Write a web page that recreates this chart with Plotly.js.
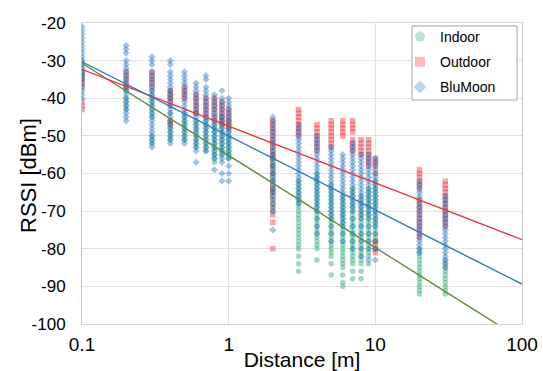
<!DOCTYPE html>
<html>
<head>
<meta charset="utf-8">
<script src="https://cdn.plot.ly/plotly-3.0.1.min.js"></script>
<style>html,body{margin:0;padding:0;background:#fff}#chart{width:543px;height:371px}</style>
</head>
<body>
<div id="chart"></div>
<script>
const distances = [0.1,0.2,0.3,0.4,0.5,0.6,0.7,0.8,0.9,1,2,3,4,5,6,7,8,9,10,20,30];

const indoorRSSI = [
  [-30,-31,-32,-33,-34,-35],
  [-37,-38,-40,-41,-42,-43],
  [-38,-39,-40,-41,-42,-43,-44,-45,-50,-51,-52],
  [-38,-39,-40,-42,-44,-46,-47,-48,-49,-50,-51],
  [-44,-45,-46,-47,-48,-49,-50,-51],
  [-44,-46,-47,-48,-49,-50,-51,-52,-53],
  [-46,-47,-48,-49,-50,-51,-52,-53,-54],
  [-47,-48,-49,-50,-51,-52,-53,-54,-55,-56,-57],
  [-45,-46,-47,-48,-49,-50,-51,-52,-53,-54,-55],
  [-46,-47,-48,-49,-50,-51,-52,-53,-54,-55,-56],
  [-55,-56,-57,-58,-59,-60,-61,-62,-63,-64,-65,-66,-67,-68,-69,-70],
  [-62,-63,-64,-65,-66,-67,-68,-69,-70,-71,-72,-73,-74,-75,-76,-77,-78,-79,-80,-82,-84,-86],
  [-60,-61,-62,-63,-64,-65,-66,-67,-68,-69,-70,-71,-72,-73,-74,-75,-76,-77,-78,-79,-80,-83],
  [-63,-64,-65,-66,-67,-68,-69,-70,-71,-72,-73,-74,-75,-76,-77,-78,-79,-80,-81,-82,-84,-87],
  [-66,-67,-68,-69,-70,-71,-72,-73,-74,-75,-76,-77,-78,-79,-80,-81,-82,-83,-84,-85,-87,-89,-90],
  [-64,-65,-66,-67,-68,-69,-70,-71,-72,-73,-74,-75,-76,-77,-78,-79,-80,-81,-82,-83,-84,-86,-88],
  [-66,-67,-68,-69,-70,-71,-72,-73,-74,-75,-76,-77,-78,-79,-80,-81,-82,-83,-84,-86,-88],
  [-64,-65,-66,-67,-68,-69,-70,-71,-72,-73,-74,-75,-76,-77,-78,-79,-80,-81,-82,-84],
  [-62,-63,-64,-65,-66,-67,-68,-69,-70,-71,-72,-73,-74,-75,-76,-77,-78,-80],
  [-80,-81,-82,-83,-84,-85,-86,-87,-88,-89,-90,-91,-92],
  [-83,-84,-85,-86,-87,-88,-89,-90,-91,-92]
];

const outdoorRSSI = [
  [-33,-34,-35,-36,-37,-41,-42,-43],
  [-33,-34,-35,-36,-37],
  [-33,-34,-35,-36,-37],
  [-38,-39,-40,-41,-46,-47],
  [-37,-38,-39,-40],
  [-39,-40,-41,-42,-43,-44],
  [-40,-41,-42,-43,-44,-45],
  [-40,-41,-42,-43,-44,-45,-46],
  [-41,-42,-43,-44,-45,-46,-47],
  [-43,-44,-45,-46,-47,-48],
  [-46,-47,-48,-49,-50,-51,-52,-53,-54,-55,-56,-58,-60,-62,-64,-65,-67,-69,-71,-73,-80],
  [-43,-44,-45,-46,-47,-48,-49,-50],
  [-47,-48,-49,-50,-51,-52,-53,-54],
  [-46,-47,-48,-49,-50,-51,-52,-53],
  [-46,-47,-48,-49,-50],
  [-46,-47,-48,-49,-51,-52,-53,-54],
  [-51,-52,-53,-54,-55],
  [-51,-52,-53,-54,-55,-56,-57,-58],
  [-56,-57,-58,-60,-78,-79,-80,-81],
  [-59,-60,-61,-62,-63,-64,-67,-68,-69,-70,-71,-72,-73,-74,-75,-76,-77],
  [-62,-63,-64,-65,-66,-67,-68,-69,-70,-71,-72,-73,-74]
];

const blumoonRSSI = [
  [-21,-22,-23,-24,-25,-26,-27,-28,-29,-30,-31,-32,-33,-34,-35,-36,-37,-38,-39,-40],
  [-26,-27,-28,-30,-31,-32,-33,-34,-35,-36,-37,-38,-39,-40,-41,-42,-43,-44,-45,-46],
  [-29,-30,-31,-33,-34,-35,-36,-37,-38,-39,-40,-41,-42,-43,-44,-45,-46,-47,-48,-49,-50,-51,-52,-53],
  [-30,-31,-33,-34,-35,-36,-37,-38,-39,-40,-41,-42,-43,-44,-45,-46,-47,-48,-49,-50,-51,-52],
  [-33,-34,-35,-36,-37,-38,-39,-40,-41,-42,-43,-44,-45,-46,-47,-48,-49,-50,-51,-52],
  [-36,-37,-38,-39,-40,-41,-42,-43,-44,-45,-46,-47,-48,-49,-50,-51,-52,-53,-54,-57],
  [-34,-35,-37,-38,-39,-40,-41,-42,-43,-44,-45,-46,-47,-48,-49,-50,-51,-52,-53,-54],
  [-39,-40,-41,-42,-43,-44,-45,-46,-47,-48,-49,-50,-51,-52,-53,-54,-55,-56,-59],
  [-38,-40,-41,-42,-43,-44,-45,-46,-47,-48,-49,-50,-51,-52,-53,-54,-55,-56,-57,-60,-62],
  [-40,-41,-42,-43,-44,-45,-46,-47,-48,-49,-50,-51,-52,-53,-54,-55,-56,-58,-60,-62],
  [-45,-46,-47,-48,-49,-50,-51,-52,-53,-54,-55,-56,-57,-58,-59,-60,-61,-62,-63,-64,-65,-66,-68,-70,-75],
  [-47,-48,-49,-50,-51,-52,-53,-54,-55,-56,-57,-58,-59,-60,-61,-62,-63,-64,-65,-66,-67,-68],
  [-50,-51,-52,-53,-54,-55,-56,-57,-58,-59,-60,-61,-62,-63,-64,-65,-66,-67,-68,-69,-70,-72,-74,-76],
  [-53,-54,-55,-56,-57,-58,-59,-60,-61,-62,-63,-64,-65,-66,-67,-68,-69,-70,-71,-72,-74,-76,-78],
  [-55,-56,-57,-58,-59,-60,-61,-62,-63,-64,-65,-66,-67,-68,-69,-70,-71,-72,-73,-74,-76,-78],
  [-52,-53,-54,-55,-56,-57,-58,-59,-60,-61,-62,-63,-64,-65,-66,-67,-68,-69,-70,-72,-74,-76,-78,-80],
  [-55,-56,-57,-58,-59,-60,-61,-62,-63,-64,-65,-66,-67,-68,-69,-70,-71,-72,-74,-76,-78,-80,-82],
  [-55,-56,-57,-58,-59,-60,-61,-62,-63,-64,-65,-66,-67,-68,-69,-70,-71,-72,-74,-76,-78,-80,-83],
  [-56,-57,-58,-59,-60,-61,-62,-63,-64,-65,-66,-67,-68,-69,-70,-71,-72,-73,-74,-76,-78,-80,-83],
  [-62,-63,-64,-65,-66,-67,-68,-69,-70,-71,-72,-73,-74,-75,-76,-77,-78,-79,-80,-81],
  [-66,-67,-68,-69,-70,-71,-72,-73,-74,-75,-76,-77,-78,-79,-80,-81,-82,-83,-84,-85]
];

// log-distance fit: RSSI = rssiAt1m + slopePerDecade * log10(d)
const fitNames = ['Indoor', 'Outdoor', 'BluMoon'];
const fitRssiAt1m = [-55.2, -47.4, -50.0];
const fitSlopePerDecade = [-24.5, -15.1, -19.7];
const fitRange = [0.1, 100];

const seriesNames = ['Indoor', 'Outdoor', 'BluMoon'];
const xTickVals = [0.1, 1, 10, 100];
const xTickText = ['0.1', '1', '10', '100'];
const yTickVals = [-100, -90, -80, -70, -60, -50, -40, -30, -20];
const yTickText = ['-100', '-90', '-80', '-70', '-60', '-50', '-40', '-30', '-20'];

const markerColors = ['rgba(30,165,105,0.42)', 'rgba(235,35,45,0.42)', 'rgba(35,115,195,0.42)'];
const legendColors = ['rgba(30,165,105,0.3)', 'rgba(235,35,45,0.3)', 'rgba(35,115,195,0.3)'];
const markerSymbols = ['circle', 'square', 'diamond'];
const lineColors = ['rgb(95,140,60)', 'rgb(235,55,55)', 'rgb(45,120,195)'];

function flatten(rssi) {
  const x = [], y = [];
  rssi.forEach((vals, i) => vals.forEach(v => { x.push(distances[i]); y.push(v); }));
  return {x, y};
}

const allData = [indoorRSSI, outdoorRSSI, blumoonRSSI];
const traces = [];
allData.forEach((d, k) => {
  const f = flatten(d);
  traces.push({
    type: 'scatter', mode: 'markers', name: seriesNames[k],
    x: f.x, y: f.y, legendgroup: 'g' + k, showlegend: false,
    marker: {color: markerColors[k], symbol: markerSymbols[k], size: 5.5, line: {width: 0}},
    hoverinfo: 'x+y'
  });
});
fitNames.forEach((n, k) => {
  traces.push({
    type: 'scatter', mode: 'lines', showlegend: false,
    x: fitRange,
    y: fitRange.map(d => fitRssiAt1m[k] + fitSlopePerDecade[k] * Math.log10(d)),
    line: {color: lineColors[k], width: 1.4}
  });
});
// legend entries (larger, paler symbols as in the original legend)
seriesNames.forEach((n, k) => {
  traces.push({
    type: 'scatter', mode: 'markers', name: n, legendgroup: 'g' + k,
    x: [null], y: [null], showlegend: true,
    marker: {color: legendColors[k], symbol: markerSymbols[k], size: 10, line: {width: 0}}
  });
});

const W = 543, H = 371, mL = 82, mR = 21, mT = 23, mB = 47;
const pw = W - mL - mR, ph = H - mT - mB;
const px = v => (v - mL) / pw;      // pixel -> paper x
const py = v => (H - mB - v) / ph;  // pixel -> paper y

const layout = {
  width: W, height: H,
  margin: {l: mL, r: mR, t: mT, b: mB},
  paper_bgcolor: '#fff', plot_bgcolor: '#fff',
  font: {family: 'Liberation Sans, Arial, sans-serif', color: '#000'},
  showlegend: true,
  legend: {
    x: px(400), y: py(21), xanchor: 'left', yanchor: 'top',
    bgcolor: 'rgba(0,0,0,0)', borderwidth: 0, itemsizing: 'trace',
    font: {size: 14}, tracegroupgap: 4
  },
  shapes: [{
    type: 'rect', xref: 'paper', yref: 'paper', layer: 'above',
    x0: px(412), x1: px(517), y0: py(100), y1: py(26),
    fillcolor: '#fff', line: {color: 'rgb(160,160,160)', width: 1}
  }],
  annotations: [{
    text: 'RSSI [dBm]', textangle: -90, showarrow: false,
    xref: 'paper', yref: 'paper', x: px(28), y: py(176),
    xanchor: 'center', yanchor: 'middle', font: {size: 22}
  }],
  xaxis: {
    type: 'log', range: [-1, 2],
    tickvals: xTickVals, ticktext: xTickText,
    tickfont: {size: 19}, ticks: '', ticklabelstandoff: 3,
    showgrid: true, gridcolor: 'rgb(225,225,225)', gridwidth: 1,
    showline: true, linecolor: 'rgb(215,215,215)', mirror: true, zeroline: false,
    title: {text: 'Distance [m]', font: {size: 21}, standoff: 0}
  },
  yaxis: {
    range: [-100, -20], tickvals: yTickVals, ticktext: yTickText,
    tickfont: {size: 17}, ticks: '', ticklabelstandoff: 12,
    showgrid: true, gridcolor: 'rgb(225,225,225)', gridwidth: 1,
    showline: true, linecolor: 'rgb(200,200,200)', mirror: true, zeroline: false
  }
};

Plotly.newPlot('chart', traces, layout, {displayModeBar: false, staticPlot: true});
</script>
</body>
</html>
